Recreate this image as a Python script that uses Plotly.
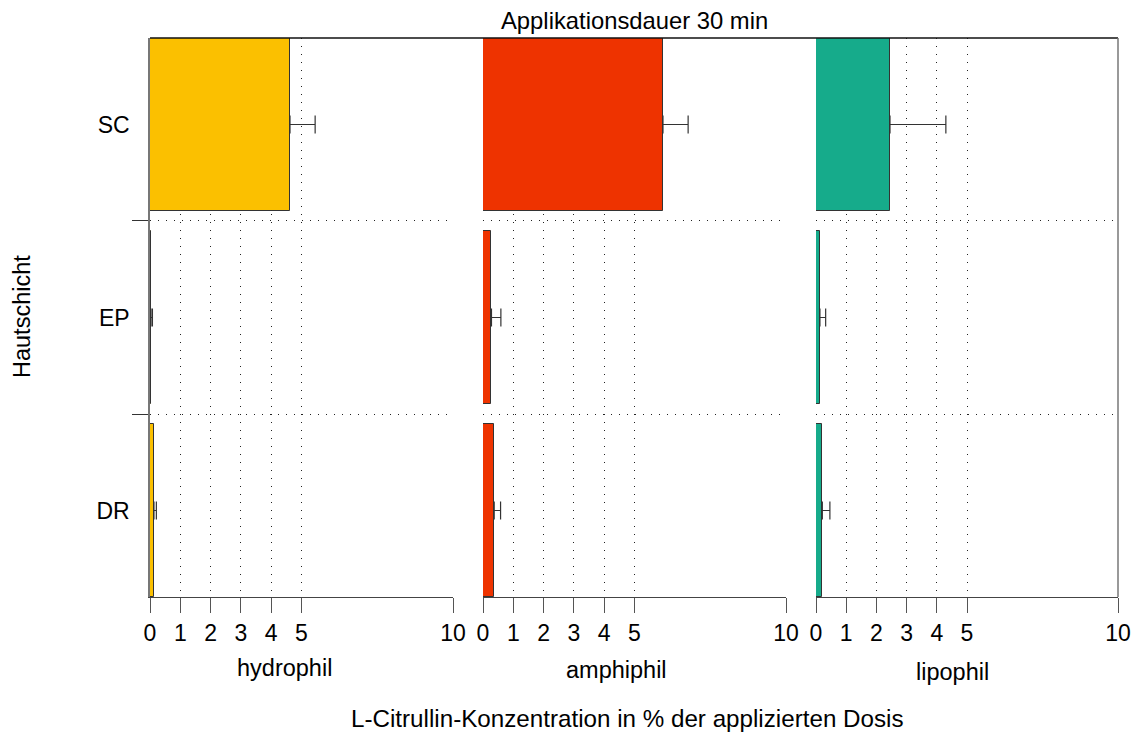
import plotly.graph_objects as go

layers = ["SC", "EP", "DR"]
layer_order = ["DR", "EP", "SC"]
formulations = ["hydrophil", "amphiphil", "lipophil"]
colors = ["#FBC000", "#EE3300", "#16AB8B"]

hydrophil_vals = [4.62, 0.03, 0.13]
hydrophil_err = [0.83, 0.05, 0.08]
amphiphil_vals = [5.94, 0.28, 0.37]
amphiphil_err = [0.83, 0.31, 0.21]
lipophil_vals = [2.45, 0.13, 0.21]
lipophil_err = [1.85, 0.19, 0.25]

values = [hydrophil_vals, amphiphil_vals, lipophil_vals]
errors = [hydrophil_err, amphiphil_err, lipophil_err]

tick_vals = [0, 1, 2, 3, 4, 5, 10]
tick_text = ["0", "1", "2", "3", "4", "5", "10"]

title_text = "Applikationsdauer 30 min"
x_title = "L-Citrullin-Konzentration in % der applizierten Dosis"
y_title = "Hautschicht"

W, H = 1143, 733
L, R, T, B = 150, 1118, 38, 597
pw, ph = R - L, B - T

def px(x):
    return (x - L) / pw

def py(y):
    return (B - y) / ph

domains = [(px(150), px(453)), (px(483), px(786)), (px(816), px(1118))]

FONT = "Liberation Sans, Arial, sans-serif"

fig = go.Figure()
for i in range(3):
    xa = "x" if i == 0 else f"x{i+1}"
    ya = "y" if i == 0 else f"y{i+1}"
    fig.add_trace(go.Bar(
        x=values[i], y=layers, orientation="h",
        xaxis=xa, yaxis=ya, width=0.896,
        marker=dict(color=colors[i], line=dict(color="#333333", width=1)),
        error_x=dict(type="data", array=errors[i], arrayminus=[0] * len(layers),
                     symmetric=False, color="#333333", thickness=1.2, width=9),
        showlegend=False, name=formulations[i], hoverinfo="skip",
    ))

layout = dict(
    width=W, height=H,
    margin=dict(l=L, r=W - R, t=T, b=H - B, pad=0),
    paper_bgcolor="white", plot_bgcolor="white",
    font=dict(family=FONT, size=22, color="black"),
    bargap=0,
)

for i in range(3):
    xk = "xaxis" if i == 0 else f"xaxis{i+1}"
    yk = "yaxis" if i == 0 else f"yaxis{i+1}"
    ya = "y" if i == 0 else f"y{i+1}"
    layout[xk] = dict(
        domain=list(domains[i]), range=[0, 10], anchor=ya,
        tickvals=tick_vals, ticktext=tick_text,
        ticks="outside", ticklen=15, tickcolor="#555555", tickwidth=1.2,
        showline=True, linecolor="#444444", linewidth=1.2,
        showgrid=True, gridcolor="#222222", gridwidth=1, griddash="1px,7px",
        zeroline=False, tickfont=dict(size=23, family=FONT),
    )
    layout[yk] = dict(
        domain=[0, 1], anchor="x" if i == 0 else f"x{i+1}",
        type="category", categoryorder="array", categoryarray=layer_order,
        range=[-0.448, 2.448], tickson="boundaries",
        showgrid=True, gridcolor="#222222", gridwidth=1, griddash="1px,7px",
        zeroline=False,
        showline=(i == 0), linecolor="#777777", linewidth=1.5,
        ticks="outside" if i == 0 else "", ticklen=16, tickcolor="#333333", tickwidth=1.2,
        showticklabels=(i == 0), tickfont=dict(size=23, family=FONT),
        ticklabelstandoff=14,
    )

fig.update_layout(**layout)

# frame lines: top across all panels, right edge
fig.add_shape(type="line", xref="paper", yref="paper", x0=0, x1=1, y0=1, y1=1,
              line=dict(color="#111111", width=1.5))
fig.add_shape(type="line", xref="paper", yref="paper", x0=1, x1=1, y0=0, y1=1,
              line=dict(color="#777777", width=1.5))

ann = [
    (title_text, px(634), py(20), 23.8, 0),
    (formulations[0], px(284), py(668), 23.5, 0),
    (formulations[1], px(616), py(670), 23.5, 0),
    (formulations[2], px(952), py(672), 23.5, 0),
    (x_title, px(627), py(718), 24.2, 0),
    (y_title, px(22), py(317), 23.5, -90),
]
for text, x, y, size, ang in ann:
    fig.add_annotation(text=text, x=x, y=y, xref="paper", yref="paper",
                       showarrow=False, textangle=ang,
                       xanchor="center", yanchor="middle",
                       font=dict(size=size, family=FONT, color="black"))

fig.write_html("out.html", config={"displayModeBar": False},
               post_script="document.body.style.margin='0';document.body.style.padding='0';")
